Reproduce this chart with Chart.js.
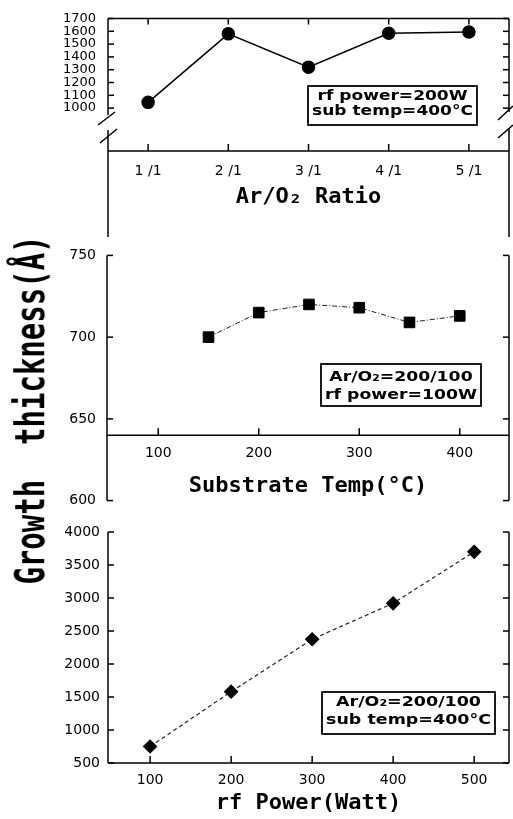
<!DOCTYPE html>
<html>
<head>
<meta charset="utf-8">
<script src="https://cdn.jsdelivr.net/npm/chart.js@4.4.0/dist/chart.umd.min.js"></script>
<style>
  body { margin: 0; background: #fff; }
  #page { position: relative; width: 513px; height: 819px; overflow: hidden; }
  canvas { position: absolute; left: 0; }
  #ylab {
    position: absolute; left: -170px; top: 393px; width: 400px; height: 34px;
    line-height: 34px; text-align: center; white-space: pre;
    font: bold 29px "DejaVu Sans Mono"; color: #000;
    transform: rotate(-90deg) scale(1, 1.4);
  }
</style>
</head>
<body>
<div id="page">
  <canvas id="c1" width="513" height="240" style="top:0px"></canvas>
  <canvas id="c2" width="513" height="284" style="top:236px"></canvas>
  <canvas id="c3" width="513" height="304" style="top:515px"></canvas>
  <div id="ylab">Growth  thickness(Å)</div>
</div>
<script>
// top panel: Ar/O2 ratio
const RATIO_LABELS = ['1 /1', '2 /1', '3 /1', '4 /1', '5 /1'];
const RATIO_THICK = [1045, 1580, 1320, 1585, 1595];
const RATIO_YTICKS = [1000, 1100, 1200, 1300, 1400, 1500, 1600, 1700];

// middle panel: substrate temperature
const TEMP_X = [150, 200, 250, 300, 350, 400];
const TEMP_THICK = [700, 715, 720, 718, 709, 713];
const TEMP_XTICKS = [100, 200, 300, 400];
const TEMP_YTICKS = [600, 650, 700, 750];
const TEMP_AXIS_AT = 640;

// bottom panel: rf power
const POWER_X = [100, 200, 300, 400, 500];
const POWER_THICK = [750, 1580, 2375, 2920, 3700];
const POWER_XTICKS = [100, 200, 300, 400, 500];
const POWER_YTICKS = [500, 1000, 1500, 2000, 2500, 3000, 3500, 4000];

const tickFont = { family: 'DejaVu Sans', size: 14 };
const smallTickFont = { family: 'DejaVu Sans', size: 13, lineHeight: 1 };
const titleFont = { family: 'DejaVu Sans Mono', size: 22, weight: 'bold' };
const plain = v => String(v);   // no thousands separator

function line(ctx, x1, y1, x2, y2) {
    ctx.beginPath();
    ctx.moveTo(x1, y1);
    ctx.lineTo(x2, y2);
    ctx.stroke();
}

// boxed condition text
const notePlugin = {
    id: 'note',
    afterDraw(chart, args, o) {
        const ctx = chart.ctx;
        const [x1, y1, x2, y2] = o.box;
        ctx.save();
        ctx.strokeStyle = '#000';
        ctx.lineWidth = 1.8;
        ctx.strokeRect(x1, y1, x2 - x1, y2 - y1);
        ctx.font = 'bold 14px "DejaVu Sans"';
        ctx.fillStyle = '#000';
        ctx.textAlign = 'center';
        ctx.textBaseline = 'middle';
        let w = 0;
        o.lines.forEach(t => { w = Math.max(w, ctx.measureText(t).width); });
        const sx = (x2 - x1 - 8) / w;
        o.lines.forEach((t, i) => {
            ctx.save();
            ctx.translate((x1 + x2) / 2, y1 + (y2 - y1) * o.at[i]);
            ctx.scale(sx, 1);
            ctx.fillText(t, 0, 0);
            ctx.restore();
        });
        ctx.restore();
    }
};

const baseOpts = {
    responsive: false,
    animation: false,
    events: [],
    layout: { autoPadding: false },
};

function axisX(extra) {
    return Object.assign({
        grid: { display: false, drawTicks: false },
        border: { display: false },
    }, extra);
}

// ---------- chart 1
new Chart(document.getElementById('c1'), {
    type: 'line',
    data: {
        labels: RATIO_LABELS,
        datasets: [{
            data: RATIO_THICK,
            borderColor: '#000', borderWidth: 1.5,
            pointStyle: 'circle', pointRadius: 6,
            pointBackgroundColor: '#000', pointBorderColor: '#000',
        }]
    },
    options: Object.assign({}, baseOpts, {
        layout: { autoPadding: false, padding: { top: 12, right: 4, left: 0, bottom: 30 } },
        plugins: {
            legend: { display: false }, tooltip: { enabled: false },
            note: { box: [308, 86, 477, 125], lines: ['rf power=200W', 'sub temp=400°C'], at: [0.27, 0.66] },
        },
        scales: {
            x: axisX({
                type: 'category', offset: true,
                ticks: { font: tickFont, color: '#000', padding: 12, maxRotation: 0 },
                title: { display: true, text: 'Ar/O₂ Ratio', font: titleFont, color: '#000', padding: 0 },
                afterFit: s => { s.height = 59; },
            }),
            y: {
                min: 665, max: 1700,
                grid: { display: false, drawTicks: false },
                border: { display: false },
                afterBuildTicks: s => { s.ticks = RATIO_YTICKS.map(v => ({ value: v })); },
                ticks: { font: smallTickFont, color: '#000', padding: 12, autoSkip: false, callback: plain },
                afterFit: s => { s.width = 108; },
            }
        }
    }),
    plugins: [notePlugin, {
        id: 'frame1',
        afterDraw(chart) {
            const ctx = chart.ctx, a = chart.chartArea, x = chart.scales.x, y = chart.scales.y;
            const L = a.left, R = a.right, T = a.top, B = a.bottom;
            ctx.save();
            ctx.strokeStyle = '#000';
            ctx.lineWidth = 1.5;
            line(ctx, L, T, R, T);
            line(ctx, L, T, L, B - 36);
            line(ctx, L, B - 21, L, 237);
            line(ctx, R, T, R, B - 39);
            line(ctx, R, B - 23, R, 237);
            line(ctx, L, B, R, B);
            // axis break marks
            line(ctx, L - 10, B - 26, L + 7, B - 39);
            line(ctx, L - 8, B - 8, L + 9, B - 22);
            line(ctx, R - 11, B - 31, R + 4, B - 45);
            line(ctx, R - 11, B - 13, R + 4, B - 26);
            RATIO_YTICKS.forEach(v => {
                const py = y.getPixelForValue(v);
                line(ctx, L, py, L + 6, py);
                line(ctx, R, py, R - 6, py);
            });
            RATIO_LABELS.forEach((l, i) => {
                const px = x.getPixelForValue(i);
                line(ctx, px, B, px, B - 7);
                line(ctx, px, T, px, T + 6);
            });
            ctx.restore();
        }
    }]
});

// ---------- chart 2
new Chart(document.getElementById('c2'), {
    type: 'line',
    data: {
        datasets: [{
            data: TEMP_X.map((v, i) => ({ x: v, y: TEMP_THICK[i] })),
            borderColor: '#222', borderWidth: 1, borderDash: [5, 2, 1, 2],
            pointStyle: 'rect', pointRadius: 7.5,
            pointBackgroundColor: '#000', pointBorderColor: '#000',
        }]
    },
    options: Object.assign({}, baseOpts, {
        layout: { autoPadding: false, padding: { top: 18, right: 4, left: 0, bottom: 14 } },
        plugins: {
            legend: { display: false }, tooltip: { enabled: false },
            note: { box: [321, 128, 481, 170], lines: ['Ar/O₂=200/100', 'rf power=100W'], at: [0.31, 0.75] },
        },
        scales: {
            x: axisX({
                type: 'linear', position: { y: TEMP_AXIS_AT }, min: 49, max: 449,
                afterBuildTicks: s => { s.ticks = TEMP_XTICKS.map(v => ({ value: v })); },
                ticks: { font: tickFont, color: '#000', padding: 10, maxRotation: 0, callback: plain },
                title: { display: true, text: 'Substrate Temp(°C)', font: titleFont, color: '#000', padding: 0 },
                afterFit: s => { s.height = 64; },
            }),
            y: {
                min: 600, max: 750,
                grid: { display: false, drawTicks: false },
                border: { display: false },
                afterBuildTicks: s => { s.ticks = TEMP_YTICKS.map(v => ({ value: v })); },
                ticks: { font: tickFont, color: '#000', padding: 11, callback: plain },
                afterFit: s => { s.width = 107; },
            }
        }
    }),
    plugins: [notePlugin, {
        id: 'frame2',
        afterDraw(chart) {
            const ctx = chart.ctx, a = chart.chartArea, x = chart.scales.x, y = chart.scales.y;
            const L = a.left, R = a.right, T = a.top, B = a.bottom;
            ctx.save();
            ctx.strokeStyle = '#000';
            ctx.lineWidth = 1.5;
            line(ctx, L, T, L, B);
            line(ctx, R, T, R, B);
            TEMP_YTICKS.forEach(v => {
                const py = y.getPixelForValue(v);
                line(ctx, L, py, L + 6, py);
                line(ctx, R, py, R - 6, py);
            });
            const ay = y.getPixelForValue(TEMP_AXIS_AT);
            line(ctx, L, ay, R, ay);
            TEMP_XTICKS.forEach(v => {
                const px = x.getPixelForValue(v);
                line(ctx, px, ay, px, ay - 7);
            });
            ctx.restore();
        }
    }]
});

// ---------- chart 3
new Chart(document.getElementById('c3'), {
    type: 'line',
    data: {
        datasets: [{
            data: POWER_X.map((v, i) => ({ x: v, y: POWER_THICK[i] })),
            borderColor: '#222', borderWidth: 1.2, borderDash: [4, 3],
            pointStyle: 'rectRot', pointRadius: 6.5,
            pointBackgroundColor: '#000', pointBorderColor: '#000',
        }]
    },
    options: Object.assign({}, baseOpts, {
        layout: { autoPadding: false, padding: { top: 17, right: 4, left: 0, bottom: 3 } },
        plugins: {
            legend: { display: false }, tooltip: { enabled: false },
            note: { box: [322, 177, 495, 219], lines: ['Ar/O₂=200/100', 'sub temp=400°C'], at: [0.25, 0.68] },
        },
        scales: {
            x: axisX({
                type: 'linear', min: 48, max: 543,
                afterBuildTicks: s => { s.ticks = POWER_XTICKS.map(v => ({ value: v })); },
                ticks: { font: tickFont, color: '#000', padding: 9, maxRotation: 0, callback: plain },
                title: { display: true, text: 'rf Power(Watt)', font: titleFont, color: '#000', padding: 0 },
                afterFit: s => { s.height = 53; },
            }),
            y: {
                min: 500, max: 4000,
                grid: { display: false, drawTicks: false },
                border: { display: false },
                afterBuildTicks: s => { s.ticks = POWER_YTICKS.map(v => ({ value: v })); },
                ticks: { font: tickFont, color: '#000', padding: 8, callback: plain },
                afterFit: s => { s.width = 108; },
            }
        }
    }),
    plugins: [notePlugin, {
        id: 'frame3',
        afterDraw(chart) {
            const ctx = chart.ctx, a = chart.chartArea, x = chart.scales.x, y = chart.scales.y;
            const L = a.left, R = a.right, T = a.top, B = a.bottom;
            ctx.save();
            ctx.strokeStyle = '#000';
            ctx.lineWidth = 1.5;
            line(ctx, L, T, L, B);
            line(ctx, R, T, R, B);
            line(ctx, L, B, R, B);
            POWER_YTICKS.forEach(v => {
                const py = y.getPixelForValue(v);
                line(ctx, L, py, L + 6, py);
                line(ctx, R, py, R - 6, py);
            });
            POWER_XTICKS.forEach(v => {
                const px = x.getPixelForValue(v);
                line(ctx, px, B, px, B - 7);
            });
            ctx.restore();
        }
    }]
});
</script>
</body>
</html>
